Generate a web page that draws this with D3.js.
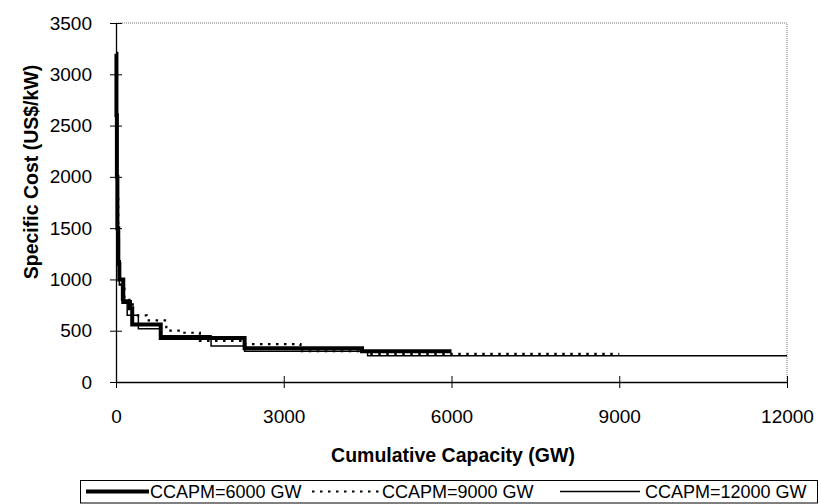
<!DOCTYPE html>
<html>
<head>
<meta charset="utf-8">
<script src="https://cdn.jsdelivr.net/npm/d3@7"></script>
<style>
  body { margin: 0; background: #fff; }
  text { font-family: "Liberation Sans", Arial, sans-serif; fill: #000; }
</style>
</head>
<body>
<svg id="chart" width="821" height="504"></svg>
<script>
// x: cumulative capacity (GW), y: specific cost (US$/kW), step series
var seriesNames = ["CCAPM=6000 GW", "CCAPM=9000 GW", "CCAPM=12000 GW"];
var capacity6000 = [0, 8, 16, 25, 40, 60, 130, 250, 290, 800, 2300, 4400, 6000];
var cost6000     = [3200, 2600, 2000, 1500, 1150, 1000, 780, 720, 560, 430, 330, 300, 300];
var capacity9000 = [0, 10, 20, 40, 70, 150, 300, 550, 900, 1200, 1500, 2300, 3300, 4500, 9000];
var cost9000     = [3100, 2300, 1800, 1200, 950, 800, 650, 600, 500, 480, 400, 370, 300, 275, 275];
var capacity12000 = [0, 15, 30, 60, 100, 200, 400, 800, 1700, 2300, 4500, 12000];
var cost12000     = [3000, 2000, 1400, 950, 800, 650, 520, 450, 350, 300, 255, 255];
var xTicks = [0, 3000, 6000, 9000, 12000];
var yTicks = [0, 500, 1000, 1500, 2000, 2500, 3000, 3500];

var svg = d3.select("#chart");
var plotLeft = 116, plotRight = 787, plotTop = 23, plotBottom = 382;

var x = d3.scaleLinear().domain([0, 12000]).range([plotLeft, plotRight]);
var y = d3.scaleLinear().domain([0, 3500]).range([plotBottom, plotTop]);

// plot area border (top and right dotted grey, like the original)
svg.append("path")
  .attr("d", "M" + plotLeft + "," + plotTop + "H" + plotRight + "V" + plotBottom)
  .attr("fill", "none").attr("stroke", "#777").attr("stroke-width", 1)
  .attr("stroke-dasharray", "1,1");

// axes with ticks that cross the axis line
var yAxis = svg.append("g").attr("transform", "translate(" + plotLeft + ",0)")
  .call(d3.axisLeft(y).tickValues(yTicks).tickFormat(d3.format("d"))
    .tickSize(6).tickPadding(18).tickSizeOuter(0));
yAxis.selectAll(".tick line").attr("x2", 6).attr("x1", -6);
var xAxis = svg.append("g").attr("transform", "translate(0," + plotBottom + ")")
  .call(d3.axisBottom(x).tickValues(xTicks).tickFormat(d3.format("d"))
    .tickSize(6).tickPadding(22).tickSizeOuter(0));
xAxis.selectAll(".tick line").attr("y1", -6).attr("y2", 6);
svg.selectAll(".domain").attr("stroke", "#000").attr("stroke-width", 1.3);
svg.selectAll(".tick line").attr("stroke", "#000");
svg.selectAll(".tick text").style("font-size", "19px")
  .style("font-family", "'Liberation Sans', Arial, sans-serif");

// axis titles
svg.append("text").attr("x", 453).attr("y", 462).attr("text-anchor", "middle")
  .style("font-size", "19.5px").style("font-weight", "bold").text("Cumulative Capacity (GW)");
svg.append("text").attr("transform", "translate(38,172) rotate(-90)").attr("text-anchor", "middle")
  .style("font-size", "19.5px").style("font-weight", "bold").text("Specific Cost (US$/kW)");

var line = d3.line().curve(d3.curveStepAfter)
  .x(function (d) { return x(d[0]); })
  .y(function (d) { return y(d[1]); });

var styles = [
  { width: 4, dash: null },
  { width: 2.2, dash: "2.5,5.5" },
  { width: 1.5, dash: null }
];
var data = [
  d3.zip(capacity6000, cost6000),
  d3.zip(capacity9000, cost9000),
  d3.zip(capacity12000, cost12000)
];

// draw thin first, then dotted, then thick on top
[2, 1, 0].forEach(function (i) {
  svg.append("path").datum(data[i])
    .attr("d", line)
    .attr("fill", "none").attr("stroke", "#000")
    .attr("stroke-width", styles[i].width)
    .attr("stroke-dasharray", styles[i].dash);
});

// legend
var legend = svg.append("g");
legend.append("rect").attr("x", 80.5).attr("y", 480.5).attr("width", 737).attr("height", 22.5)
  .attr("fill", "#fff").attr("stroke", "#000").attr("stroke-width", 1);
var legendPos = [{ x1: 86, x2: 149, tx: 150 }, { x1: 312, x2: 380, tx: 382 }, { x1: 560, x2: 640, tx: 645 }];
seriesNames.forEach(function (name, i) {
  legend.append("line").attr("x1", legendPos[i].x1).attr("x2", legendPos[i].x2)
    .attr("y1", 491.5).attr("y2", 491.5).attr("stroke", "#000")
    .attr("stroke-width", styles[i].width).attr("stroke-dasharray", styles[i].dash);
  legend.append("text").attr("x", legendPos[i].tx).attr("y", 498)
    .style("font-size", "18px").text(name);
});
</script>
</body>
</html>
